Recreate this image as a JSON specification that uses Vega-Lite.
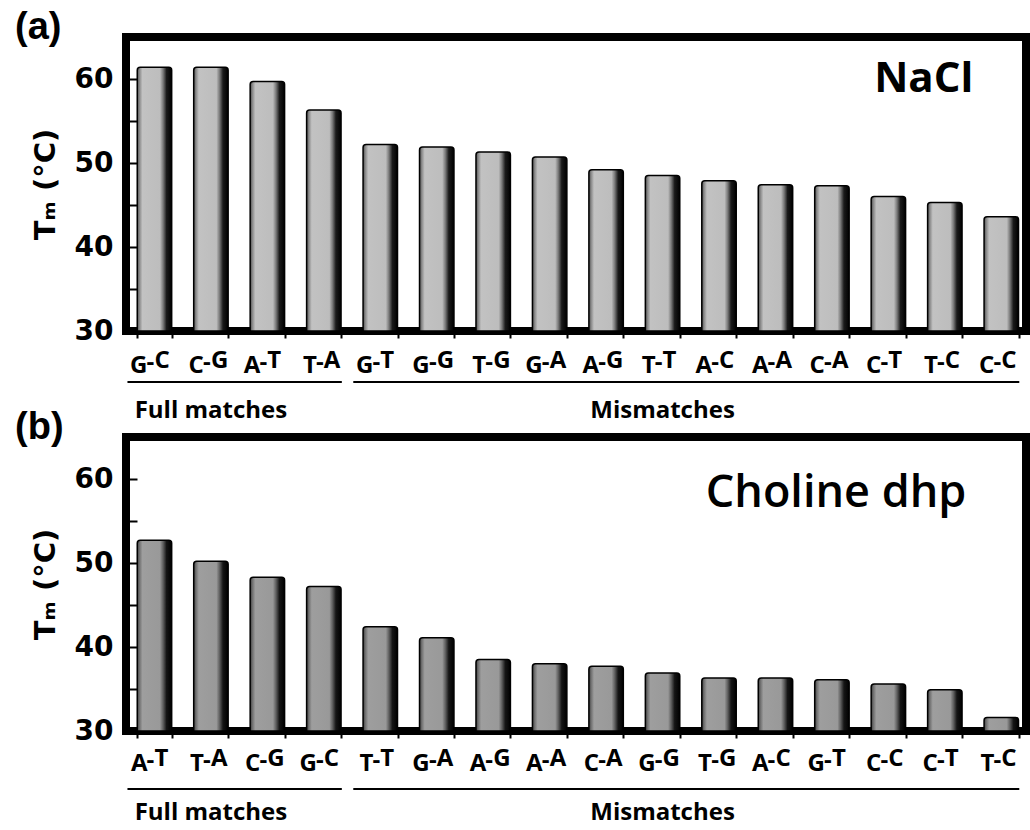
{
  "$schema": "https://vega.github.io/schema/vega-lite/v6.json",
  "background": "white",
  "padding": {"left": 11, "top": 5, "right": 5, "bottom": 5},
  "bounds": "flush",
  "spacing": 106,
  "config": {
    "view": {"stroke": "black", "strokeWidth": 8},
    "axis": {"grid": false, "domain": false, "tickColor": "black", "labelColor": "black", "titleColor": "black"},
    "title": {"anchor": "start", "font": "Liberation Sans", "fontSize": 38, "fontWeight": "bold", "color": "black", "offset": -10, "dx": -16}
  },
  "datasets": {
    "a": [
      {"pair": "G-C", "b1": "G", "b2": "C", "tm": 61.4},
      {"pair": "C-G", "b1": "C", "b2": "G", "tm": 61.4},
      {"pair": "A-T", "b1": "A", "b2": "T", "tm": 59.7},
      {"pair": "T-A", "b1": "T", "b2": "A", "tm": 56.3},
      {"pair": "G-T", "b1": "G", "b2": "T", "tm": 52.2},
      {"pair": "G-G", "b1": "G", "b2": "G", "tm": 51.9},
      {"pair": "T-G", "b1": "T", "b2": "G", "tm": 51.3},
      {"pair": "G-A", "b1": "G", "b2": "A", "tm": 50.7},
      {"pair": "A-G", "b1": "A", "b2": "G", "tm": 49.2},
      {"pair": "T-T", "b1": "T", "b2": "T", "tm": 48.5},
      {"pair": "A-C", "b1": "A", "b2": "C", "tm": 47.9},
      {"pair": "A-A", "b1": "A", "b2": "A", "tm": 47.4},
      {"pair": "C-A", "b1": "C", "b2": "A", "tm": 47.3},
      {"pair": "C-T", "b1": "C", "b2": "T", "tm": 46.0},
      {"pair": "T-C", "b1": "T", "b2": "C", "tm": 45.3},
      {"pair": "C-C", "b1": "C", "b2": "C", "tm": 43.6}
    ],
    "b": [
      {"pair": "A-T", "b1": "A", "b2": "T", "tm": 52.7},
      {"pair": "T-A", "b1": "T", "b2": "A", "tm": 50.2},
      {"pair": "C-G", "b1": "C", "b2": "G", "tm": 48.3},
      {"pair": "G-C", "b1": "G", "b2": "C", "tm": 47.2},
      {"pair": "T-T", "b1": "T", "b2": "T", "tm": 42.4},
      {"pair": "G-A", "b1": "G", "b2": "A", "tm": 41.1},
      {"pair": "A-G", "b1": "A", "b2": "G", "tm": 38.5},
      {"pair": "A-A", "b1": "A", "b2": "A", "tm": 38.0},
      {"pair": "C-A", "b1": "C", "b2": "A", "tm": 37.7},
      {"pair": "G-G", "b1": "G", "b2": "G", "tm": 36.9},
      {"pair": "T-G", "b1": "T", "b2": "G", "tm": 36.3},
      {"pair": "A-C", "b1": "A", "b2": "C", "tm": 36.3},
      {"pair": "G-T", "b1": "G", "b2": "T", "tm": 36.1},
      {"pair": "C-C", "b1": "C", "b2": "C", "tm": 35.6},
      {"pair": "C-T", "b1": "C", "b2": "T", "tm": 34.9},
      {"pair": "T-C", "b1": "T", "b2": "C", "tm": 31.6}
    ],
    "ga": [
      {"label": "Full matches", "start": "G-C", "end": "T-A", "mid": "C-G"},
      {"label": "Mismatches", "start": "G-T", "end": "C-C", "mid": "T-T"}
    ],
    "gb": [
      {"label": "Full matches", "start": "A-T", "end": "G-C", "mid": "T-A"},
      {"label": "Mismatches", "start": "T-T", "end": "T-C", "mid": "G-G"}
    ],
    "ta": [{"label": "NaCl"}],
    "tb": [{"label": "Choline dhp"}]
  },
  "resolve": {"scale": {"x": "independent", "y": "independent"}},
  "vconcat": [
    {
      "width": 900,
      "height": 294,
      "title": {"text": "(a)"},
      "layer": [
        {
          "data": {"name": "a"},
          "mark": {
            "type": "bar",
            "clip": true,
            "fill": {"gradient": "linear", "x1": 0, "x2": 1, "y1": 0, "y2": 0, "stops": [
              {"offset": 0, "color": "#505050"},
              {"offset": 0.07, "color": "#8c8c8c"},
              {"offset": 0.15, "color": "#c2c2c2"},
              {"offset": 0.66, "color": "#bdbdbd"},
              {"offset": 0.75, "color": "#7a7a7a"},
              {"offset": 0.85, "color": "#1a1a1a"},
              {"offset": 1, "color": "#000000"}
            ]},
            "stroke": "black",
            "strokeWidth": 1.5,
            "cornerRadiusTopLeft": 3,
            "cornerRadiusTopRight": 3
          },
          "encoding": {
            "x": {
              "field": "pair", "type": "nominal",
              "scale": {"domain": ["G-C","C-G","A-T","T-A","G-T","G-G","T-G","G-A","A-G","T-T","A-C","A-A","C-A","C-T","T-C","C-C"], "paddingInner": 0.39, "paddingOuter": 0.166, "align": 0.6},
              "axis": {"labels": false, "title": null, "ticks": true, "tickBand": "extent", "tickSize": 7, "tickWidth": 2}
            },
            "y": {
              "field": "tm", "type": "quantitative",
              "scale": {"domain": [30, 65], "nice": false, "zero": false},
              "axis": {
                "values": [30, 35, 40, 45, 50, 55, 60],
                "labelExpr": "datum.value % 10 === 0 ? datum.label : ''",
                "tickSize": -11, "tickWidth": 2,
                "labelFont": "DejaVu Sans", "labelFontWeight": "bold", "labelFontSize": 28, "labelPadding": 24,
                "title": "Tₘ (°C)", "titleFont": "DejaVu Sans", "titleFontSize": 29, "titleFontWeight": "bold", "titlePadding": 14
              }
            },
            "y2": {"datum": 30}
          }
        },
        {
          "data": {"name": "a"},
          "mark": {"type": "text", "align": "right", "baseline": "middle", "dx": -7, "dy": 35, "font": "Open Sans", "fontWeight": "bold", "fontSize": 24, "color": "black"},
          "encoding": {"x": {"field": "pair", "type": "nominal"}, "y": {"datum": 30}, "text": {"field": "b1"}}
        },
        {
          "data": {"name": "a"},
          "mark": {"type": "text", "align": "center", "baseline": "middle", "dx": -4, "dy": 32, "font": "Open Sans", "fontWeight": "bold", "fontSize": 24, "color": "black", "text": "-"},
          "encoding": {"x": {"field": "pair", "type": "nominal"}, "y": {"datum": 30}}
        },
        {
          "data": {"name": "a"},
          "mark": {"type": "text", "align": "left", "baseline": "middle", "dx": 0, "dy": 30, "font": "Open Sans", "fontWeight": "bold", "fontSize": 24, "color": "black"},
          "encoding": {"x": {"field": "pair", "type": "nominal"}, "y": {"datum": 30}, "text": {"field": "b2"}}
        },
        {
          "data": {"name": "ga"},
          "mark": {"type": "rule", "color": "black", "strokeWidth": 2, "yOffset": 51, "xOffset": -27, "x2Offset": 18},
          "encoding": {"x": {"field": "start", "type": "nominal"}, "x2": {"field": "end"}, "y": {"datum": 30}}
        },
        {
          "data": {"name": "ga"},
          "mark": {"type": "text", "align": "center", "baseline": "middle", "dx": 0, "dy": 80, "font": "Open Sans", "fontWeight": "bold", "fontSize": 24, "color": "black"},
          "encoding": {"x": {"field": "mid", "type": "nominal"}, "y": {"datum": 30}, "text": {"field": "label"}}
        },
        {
          "data": {"name": "ta"},
          "mark": {"type": "text", "align": "right", "baseline": "middle", "dx": -28, "font": "Open Sans", "fontWeight": "bold", "fontSize": 42, "color": "black"},
          "encoding": {"x": {"datum": "C-C"}, "y": {"datum": 60}, "text": {"field": "label"}}
        }
      ]
    },
    {
      "width": 900,
      "height": 294,
      "title": {"text": "(b)"},
      "layer": [
        {
          "data": {"name": "b"},
          "mark": {
            "type": "bar",
            "clip": true,
            "fill": {"gradient": "linear", "x1": 0, "x2": 1, "y1": 0, "y2": 0, "stops": [
              {"offset": 0, "color": "#404040"},
              {"offset": 0.07, "color": "#727272"},
              {"offset": 0.15, "color": "#9e9e9e"},
              {"offset": 0.66, "color": "#999999"},
              {"offset": 0.75, "color": "#606060"},
              {"offset": 0.85, "color": "#151515"},
              {"offset": 1, "color": "#000000"}
            ]},
            "stroke": "black",
            "strokeWidth": 1.5,
            "cornerRadiusTopLeft": 3,
            "cornerRadiusTopRight": 3
          },
          "encoding": {
            "x": {
              "field": "pair", "type": "nominal",
              "scale": {"domain": ["A-T","T-A","C-G","G-C","T-T","G-A","A-G","A-A","C-A","G-G","T-G","A-C","G-T","C-C","C-T","T-C"], "paddingInner": 0.39, "paddingOuter": 0.166, "align": 0.6},
              "axis": {"labels": false, "title": null, "ticks": true, "tickBand": "extent", "tickSize": 7, "tickWidth": 2}
            },
            "y": {
              "field": "tm", "type": "quantitative",
              "scale": {"domain": [30, 65], "nice": false, "zero": false},
              "axis": {
                "values": [30, 35, 40, 45, 50, 55, 60],
                "labelExpr": "datum.value % 10 === 0 ? datum.label : ''",
                "tickSize": -11, "tickWidth": 2,
                "labelFont": "DejaVu Sans", "labelFontWeight": "bold", "labelFontSize": 28, "labelPadding": 24,
                "title": "Tₘ (°C)", "titleFont": "DejaVu Sans", "titleFontSize": 29, "titleFontWeight": "bold", "titlePadding": 14
              }
            },
            "y2": {"datum": 30}
          }
        },
        {
          "data": {"name": "b"},
          "mark": {"type": "text", "align": "right", "baseline": "middle", "dx": -7, "dy": 33, "font": "Open Sans", "fontWeight": "bold", "fontSize": 24, "color": "black"},
          "encoding": {"x": {"field": "pair", "type": "nominal"}, "y": {"datum": 30}, "text": {"field": "b1"}}
        },
        {
          "data": {"name": "b"},
          "mark": {"type": "text", "align": "center", "baseline": "middle", "dx": -4, "dy": 30, "font": "Open Sans", "fontWeight": "bold", "fontSize": 24, "color": "black", "text": "-"},
          "encoding": {"x": {"field": "pair", "type": "nominal"}, "y": {"datum": 30}}
        },
        {
          "data": {"name": "b"},
          "mark": {"type": "text", "align": "left", "baseline": "middle", "dx": 0, "dy": 28, "font": "Open Sans", "fontWeight": "bold", "fontSize": 24, "color": "black"},
          "encoding": {"x": {"field": "pair", "type": "nominal"}, "y": {"datum": 30}, "text": {"field": "b2"}}
        },
        {
          "data": {"name": "gb"},
          "mark": {"type": "rule", "color": "black", "strokeWidth": 2, "yOffset": 58, "xOffset": -27, "x2Offset": 18},
          "encoding": {"x": {"field": "start", "type": "nominal"}, "x2": {"field": "end"}, "y": {"datum": 30}}
        },
        {
          "data": {"name": "gb"},
          "mark": {"type": "text", "align": "center", "baseline": "middle", "dx": 0, "dy": 82, "font": "Open Sans", "fontWeight": "bold", "fontSize": 24, "color": "black"},
          "encoding": {"x": {"field": "mid", "type": "nominal"}, "y": {"datum": 30}, "text": {"field": "label"}}
        },
        {
          "data": {"name": "tb"},
          "mark": {"type": "text", "align": "right", "baseline": "middle", "dx": -35, "font": "Open Sans", "fontWeight": 600, "fontSize": 45, "color": "black"},
          "encoding": {"x": {"datum": "T-C"}, "y": {"datum": 58.3}, "text": {"field": "label"}}
        }
      ]
    }
  ]
}
